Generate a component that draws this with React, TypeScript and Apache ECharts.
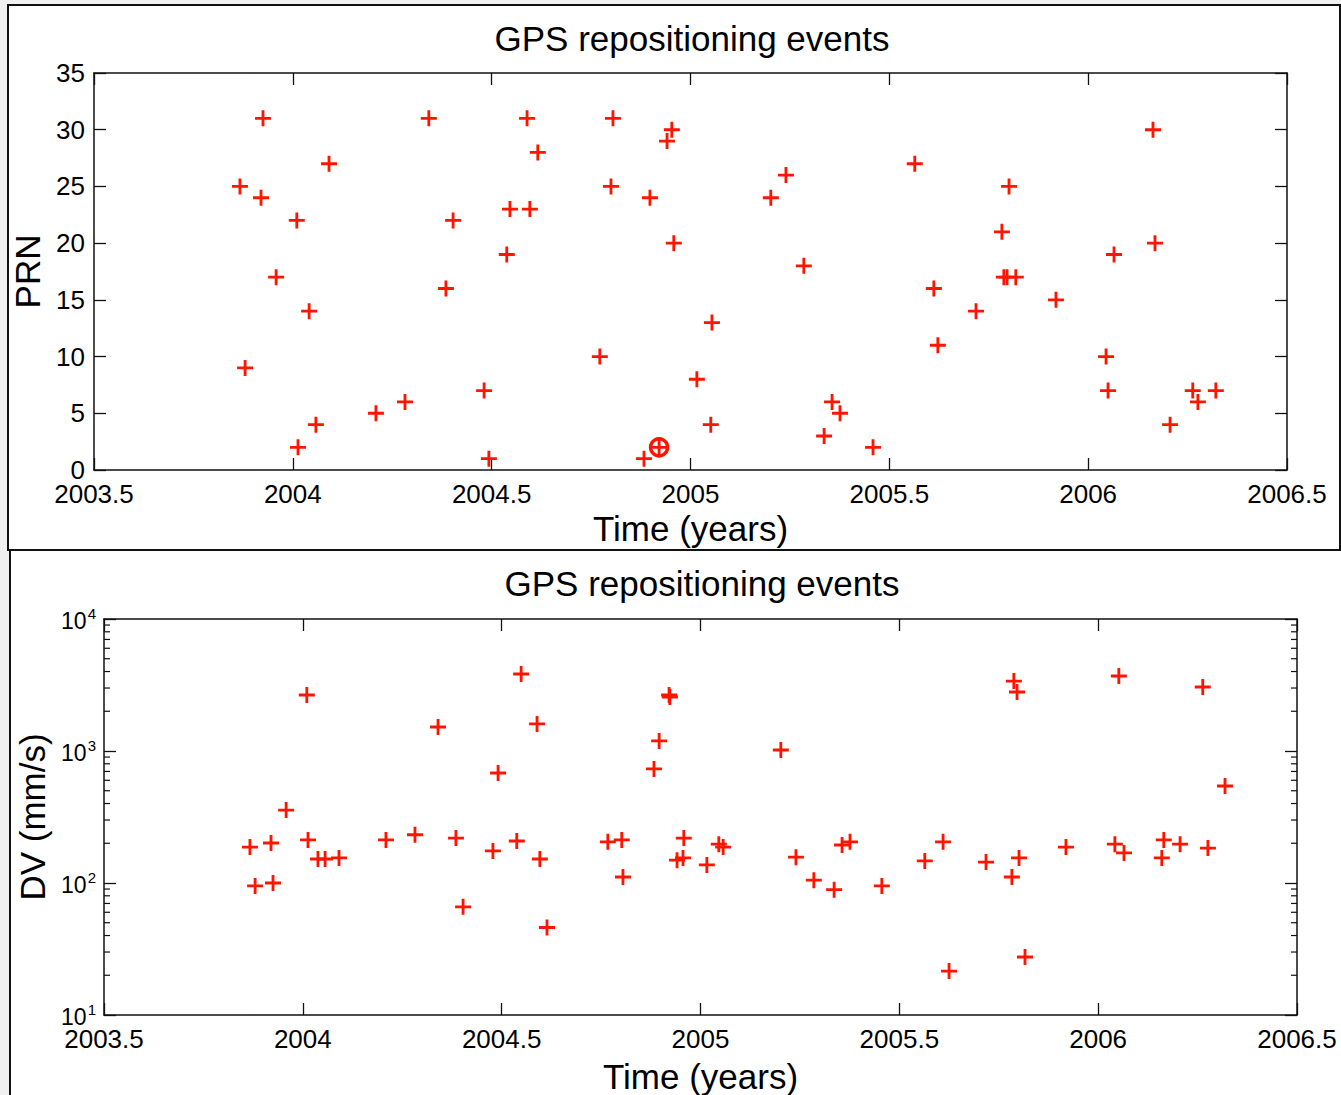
import React, { useEffect, useRef } from "react";
import * as echarts from "echarts";

// Upper panel: satellite PRN of each repositioning event
const prnYears = [
  2003.867, 2003.88, 2003.925, 2003.92, 2003.958, 2004.01, 2004.013, 2004.041, 2004.058, 2004.091,
  2004.209, 2004.282, 2004.342, 2004.385, 2004.403, 2004.481, 2004.493, 2004.538, 2004.546, 2004.589,
  2004.596, 2004.616, 2004.772, 2004.8, 2004.805, 2004.883, 2004.898, 2004.921, 2004.941, 2004.953,
  2004.958, 2005.016, 2005.051, 2005.054, 2005.202, 2005.24, 2005.285, 2005.336, 2005.356, 2005.376,
  2005.459, 2005.564, 2005.612, 2005.622, 2005.718, 2005.783, 2005.788, 2005.796, 2005.801, 2005.818,
  2005.919, 2006.045, 2006.05, 2006.065, 2006.163, 2006.168, 2006.206, 2006.263, 2006.276, 2006.321,
];
const prnValues = [
  25, 9, 31, 24, 17, 22, 2, 14, 4, 27,
  5, 6, 31, 16, 22, 7, 1, 19, 23, 31,
  23, 28, 10, 25, 31, 1, 24, 2, 29, 30,
  20, 8, 4, 13, 24, 26, 18, 3, 6, 5,
  2, 27, 16, 11, 14, 21, 17, 17, 25, 17,
  15, 10, 7, 19, 30, 20, 4, 7, 6, 7,
];
// Event marked with a ring
const highlightYear = 2004.921;
const highlightPrn = 2;

// Lower panel: velocity change of each event (mm/s)
const dvYears = [
  2003.867, 2003.88, 2003.92, 2003.925, 2003.958, 2004.01, 2004.013, 2004.038, 2004.056, 2004.091,
  2004.209, 2004.282, 2004.34, 2004.385, 2004.403, 2004.478, 2004.491, 2004.538, 2004.549, 2004.589,
  2004.596, 2004.614, 2004.767, 2004.802, 2004.805, 2004.883, 2004.896, 2004.921, 2004.923, 2004.941,
  2004.956, 2004.958, 2005.016, 2005.046, 2005.057, 2005.202, 2005.24, 2005.285, 2005.336, 2005.356,
  2005.376, 2005.456, 2005.564, 2005.61, 2005.625, 2005.718, 2005.783, 2005.788, 2005.796, 2005.801,
  2005.816, 2005.919, 2006.042, 2006.052, 2006.065, 2006.16, 2006.165, 2006.206, 2006.263, 2006.276,
  2006.319,
];
const dvValues = [
  187, 95, 201, 100, 357, 2655, 212, 152, 152, 155,
  212, 232, 1520, 219, 66, 175, 681, 208, 3831, 1603,
  152, 46, 205, 212, 111, 731, 1192, 2655, 2565, 149,
  155, 219, 137, 197, 187, 1018, 157, 105, 89, 194,
  205, 95, 147, 205, 21.5, 144, 111, 3388, 2799, 155,
  27.5, 187, 197, 3700, 169, 155, 212, 197, 3054, 184,
  543,
];

// Axis ranges and tick labels
const xMin = 2003.5;
const xMax = 2006.5;
const xStep = 0.5;
const prnMin = 0;
const prnMax = 35;
const prnStep = 5;
const dvMin = 10;
const dvMax = 10000;
const dvMinorTicks = [
  20, 30, 40, 50, 60, 70, 80, 90,
  200, 300, 400, 500, 600, 700, 800, 900,
  2000, 3000, 4000, 5000, 6000, 7000, 8000, 9000,
];

const FONT = '"Liberation Sans", Arial, Helvetica, sans-serif';
const RED = "#ff1400";
const PLUS = "path://M7,0H10V17H7Z M0,7H17V10H0Z";
const TITLE = "GPS repositioning events";

const axisLine = { show: true, onZero: false, lineStyle: { color: "#111", width: 1.5 } };
const tick = { show: true, inside: true, length: 12, lineStyle: { color: "#111", width: 1.3 } };
const tickLabel = { color: "#000", fontSize: 26, fontFamily: FONT, lineHeight: 20 };
const nameStyle = { color: "#000", fontSize: 35, fontFamily: FONT };

function xAxes(gridIndex: number, nameGap: number) {
  const base = {
    type: "value",
    gridIndex,
    min: xMin,
    max: xMax,
    interval: xStep,
    axisLine,
    axisTick: tick,
    splitLine: { show: false },
  };
  return [
    {
      ...base,
      position: "bottom",
      axisLabel: { ...tickLabel, margin: 14, formatter: (v: number) => String(v) },
      name: "Time (years)",
      nameLocation: "middle",
      nameGap,
      nameTextStyle: nameStyle,
    },
    { ...base, position: "top", axisLabel: { show: false } },
  ];
}

function titleText(x: number, y: number) {
  return {
    type: "text",
    x,
    y,
    style: {
      text: TITLE,
      fontSize: 35,
      fontFamily: FONT,
      fill: "#000",
      align: "center",
      verticalAlign: "middle",
    },
  };
}

export default function App() {
  const ref = useRef<HTMLDivElement>(null);

  useEffect(() => {
    if (!ref.current) return;
    const chart = echarts.init(ref.current, undefined, { renderer: "svg" });

    const prnData = prnYears.map((t, i) => [t, prnValues[i]]);
    const dvData = dvYears.map((t, i) => [t, dvValues[i]]);

    chart.setOption({
      animation: false,
      backgroundColor: "#f0f0f0",
      graphic: [
        {
          type: "rect",
          z: -10,
          shape: { x: 8, y: 5, width: 1332, height: 545 },
          style: { fill: "#fff", stroke: "#111", lineWidth: 2 },
        },
        {
          type: "rect",
          z: -10,
          shape: { x: 10, y: 550, width: 1340, height: 560 },
          style: { fill: "#fff", stroke: "#111", lineWidth: 2 },
        },
        titleText(692, 38),
        titleText(702, 583),
      ],
      grid: [
        { left: 94, top: 73, width: 1193, height: 397, outerBoundsMode: "none" },
        { left: 104, top: 619, width: 1193, height: 396, outerBoundsMode: "none" },
      ],
      xAxis: [...xAxes(0, 41), ...xAxes(1, 44)],
      yAxis: [
        {
          type: "value",
          gridIndex: 0,
          position: "left",
          min: prnMin,
          max: prnMax,
          interval: prnStep,
          axisLine,
          axisTick: tick,
          splitLine: { show: false },
          axisLabel: { ...tickLabel, lineHeight: 18, margin: 9 },
          name: "PRN",
          nameLocation: "middle",
          nameGap: 46,
          nameRotate: 90,
          nameTextStyle: nameStyle,
        },
        {
          type: "value",
          gridIndex: 0,
          position: "right",
          min: prnMin,
          max: prnMax,
          interval: prnStep,
          axisLine,
          axisTick: tick,
          splitLine: { show: false },
          axisLabel: { show: false },
        },
        {
          type: "log",
          logBase: 10,
          gridIndex: 1,
          position: "left",
          min: dvMin,
          max: dvMax,
          axisLine,
          axisTick: tick,
          splitLine: { show: false },
          axisLabel: {
            margin: 8,
            formatter: (v: number) => `{b|10}{s|${Math.round(Math.log10(v))}}`,
            rich: {
              b: { fontSize: 23, fontFamily: FONT, color: "#000", lineHeight: 26, verticalAlign: "bottom" },
              s: { fontSize: 15, fontFamily: FONT, color: "#000", lineHeight: 15, verticalAlign: "top", padding: [0, 0, 12, 1] },
            },
          },
          name: "DV (mm/s)",
          nameLocation: "middle",
          nameGap: 54,
          nameRotate: 90,
          nameTextStyle: nameStyle,
        },
        {
          type: "log",
          logBase: 10,
          gridIndex: 1,
          position: "right",
          min: dvMin,
          max: dvMax,
          axisLine,
          axisTick: tick,
          splitLine: { show: false },
          axisLabel: { show: false },
        },
      ],
      series: [
        {
          type: "scatter",
          name: "PRN",
          xAxisIndex: 0,
          yAxisIndex: 0,
          silent: true,
          data: prnData,
          symbol: PLUS,
          symbolSize: 16,
          itemStyle: { color: RED, opacity: 1 },
        },
        {
          type: "scatter",
          name: "marked",
          xAxisIndex: 0,
          yAxisIndex: 0,
          silent: true,
          data: [[highlightYear, highlightPrn]],
          symbol: "circle",
          symbolSize: 17,
          itemStyle: { color: "rgba(255,255,255,0)", borderColor: RED, borderWidth: 3.5, opacity: 1 },
        },
        {
          type: "scatter",
          name: "DV",
          xAxisIndex: 2,
          yAxisIndex: 2,
          silent: true,
          data: dvData,
          symbol: PLUS,
          symbolSize: 16,
          itemStyle: { color: RED, opacity: 1 },
        },
        {
          // minor ticks of the logarithmic axis, on both sides of the box
          type: "custom",
          xAxisIndex: 2,
          yAxisIndex: 2,
          silent: true,
          clip: false,
          data: dvMinorTicks.map((v) => [xMin, v]),
          renderItem: (_params: any, api: any) => {
            const v = api.value(1);
            const l = api.coord([xMin, v]);
            const r = api.coord([xMax, v]);
            const style = { stroke: "#111", lineWidth: 1.2 };
            return {
              type: "group",
              children: [
                { type: "line", shape: { x1: l[0], y1: l[1], x2: l[0] + 6, y2: l[1] }, style },
                { type: "line", shape: { x1: r[0] - 6, y1: r[1], x2: r[0], y2: r[1] }, style },
              ],
            };
          },
        },
      ],
    });

    return () => chart.dispose();
  }, []);

  return (
    <div
      ref={ref}
      style={{ position: "fixed", left: 0, top: 0, width: 1341, height: 1095 }}
    />
  );
}
